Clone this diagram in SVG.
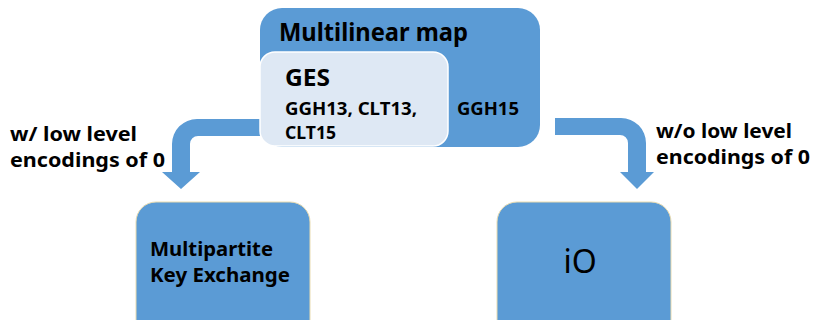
<svg xmlns="http://www.w3.org/2000/svg" width="813" height="320" viewBox="0 0 813 320">
  <style>
    .box { fill: #5b9bd5; }
    .leaf { fill: #5b9bd5; stroke: #eadcb0; stroke-width: 1; }
    .inner { fill: #dee8f4; stroke: #ffffff; stroke-width: 1.5; }
    .arrow { fill: #5b9bd5; }
    text { font-family: "Noto Sans", "Open Sans", "DejaVu Sans", sans-serif; font-weight: bold; fill: #000000; }
    .title { font-size: 25px; }
    .ges { font-size: 24px; }
    .item { font-size: 17.5px; }
    .lbl { font-size: 19px; }
    .leafText { font-size: 20px; }
    .io { font-size: 32px; font-weight: normal; }
  </style>
  <rect width="813" height="320" fill="#ffffff"/>

  <!-- connectors: bent block arrows -->
  <g id="connectors">
    <path class="arrow" d="M 262 119 L 197 119 A 25 25 0 0 0 172 144 L 172 172 L 162 172 L 181 189 L 200 172 L 190 172 L 190 144 A 8 8 0 0 1 198 136 L 262 136 Z"/>
    <path class="arrow" d="M 555 118 L 621 118 A 25 25 0 0 1 646 143 L 646 172 L 654 172 L 637 189 L 620 172 L 628 172 L 628 143 A 8 8 0 0 0 620 135 L 555 135 Z"/>
    <text class="lbl" x="10" y="141" textLength="127" lengthAdjust="spacingAndGlyphs">w/ low level</text>
    <text class="lbl" x="10" y="167" textLength="155" lengthAdjust="spacingAndGlyphs">encodings of 0</text>
    <text class="lbl" x="656" y="138" textLength="136" lengthAdjust="spacingAndGlyphs">w/o low level</text>
    <text class="lbl" x="656" y="164" textLength="154" lengthAdjust="spacingAndGlyphs">encodings of 0</text>
  </g>

  <!-- Multilinear map container with nested GES -->
  <g id="multilinear-map">
    <rect class="box" x="260" y="8" width="280" height="139" rx="22"/>
    <text class="title" x="279" y="41" textLength="189" lengthAdjust="spacingAndGlyphs">Multilinear map</text>
    <text class="item" x="457" y="115" textLength="62" lengthAdjust="spacingAndGlyphs">GGH15</text>
  </g>

  <g id="ges">
    <rect class="inner" x="260" y="52" width="188" height="94" rx="15"/>
    <text class="ges" x="285" y="86" textLength="45" lengthAdjust="spacingAndGlyphs">GES</text>
    <text class="item" x="285" y="115" textLength="132" lengthAdjust="spacingAndGlyphs">GGH13, CLT13,</text>
    <text class="item" x="285" y="139" textLength="51" lengthAdjust="spacingAndGlyphs">CLT15</text>
  </g>

  <g id="multipartite-key-exchange">
    <rect class="leaf" x="136" y="202" width="174" height="140" rx="20"/>
    <text class="leafText" x="150" y="256" textLength="123" lengthAdjust="spacingAndGlyphs">Multipartite</text>
    <text class="leafText" x="150" y="282" textLength="140" lengthAdjust="spacingAndGlyphs">Key Exchange</text>
  </g>

  <g id="io">
    <rect class="leaf" x="497" y="202" width="174" height="140" rx="20"/>
    <text class="io" x="580" y="273" text-anchor="middle">iO</text>
  </g>
</svg>
